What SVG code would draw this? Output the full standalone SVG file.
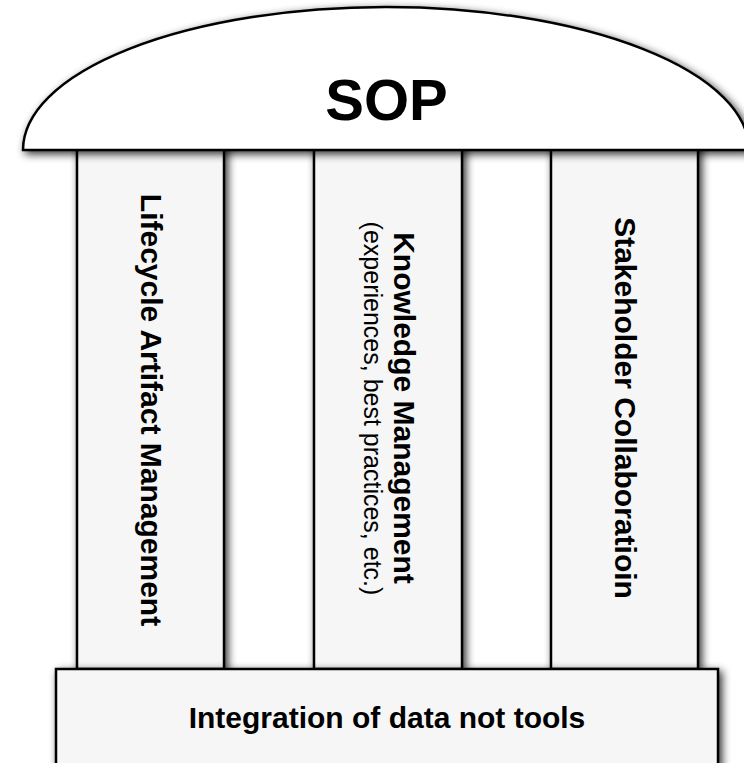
<svg xmlns="http://www.w3.org/2000/svg" width="744" height="763" viewBox="0 0 744 763">
  <style>
    .shape { stroke: #000; stroke-width: 2.5; }
    .pillar { fill: #f6f6f6; }
    .lbl { font-family: "Liberation Sans", Arial, sans-serif; fill: #000; text-anchor: middle; }
    .b30 { font-size: 30px; font-weight: bold; }
  </style>
  <defs>
    <filter id="shadow" x="-0.2" y="-0.2" width="1.4" height="1.4">
      <feGaussianBlur in="SourceAlpha" stdDeviation="4" result="b"/>
      <feOffset in="b" dx="3" dy="3" result="o"/>
      <feComponentTransfer in="o" result="sh">
        <feFuncA type="linear" slope="0.8"/>
      </feComponentTransfer>
      <feMerge>
        <feMergeNode in="sh"/>
        <feMergeNode in="SourceGraphic"/>
      </feMerge>
    </filter>
  </defs>
  <rect x="0" y="0" width="744" height="763" fill="#fff"/>
  <g id="pillar-lifecycle">
    <rect class="shape pillar" filter="url(#shadow)" x="77" y="140" width="147" height="529"/>
    <text class="lbl b30" transform="translate(141,410) rotate(90)">Lifecycle Artifact Management</text>
  </g>
  <g id="pillar-knowledge">
    <rect class="shape pillar" filter="url(#shadow)" x="314" y="140" width="148" height="529"/>
    <text class="lbl b30" transform="translate(393.5,408) rotate(90)">Knowledge Management</text>
    <text class="lbl" font-size="25" transform="translate(363.5,408.5) rotate(90)">(experiences, best practices, etc.)</text>
  </g>
  <g id="pillar-stakeholder">
    <rect class="shape pillar" filter="url(#shadow)" x="551" y="140" width="147" height="529"/>
    <text class="lbl b30" transform="translate(614.5,408) rotate(90)">Stakeholder Collaboratioin</text>
  </g>
  <g id="dome">
    <path class="shape" filter="url(#shadow)" fill="#fff" stroke-width="2" d="M 23 150 A 363 143 0 0 1 749 150 Z"/>
    <text class="lbl" font-size="58" font-weight="bold" x="386.5" y="120">SOP</text>
  </g>
  <g id="base">
    <rect class="shape pillar" filter="url(#shadow)" x="56" y="669" width="662" height="130"/>
    <text class="lbl b30" x="387" y="728">Integration of data not tools</text>
  </g>
  <g id="connectors"/>
</svg>
